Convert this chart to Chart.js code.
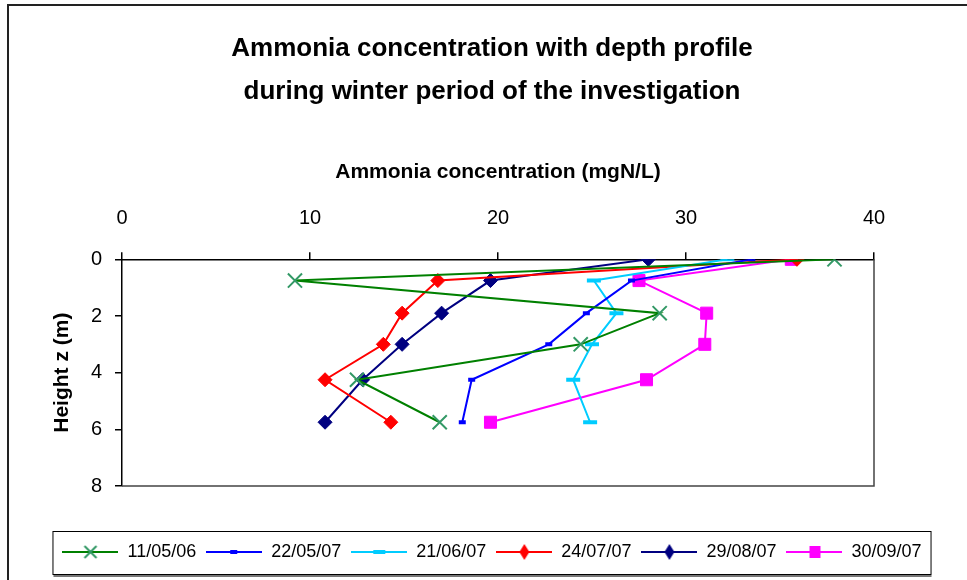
<!DOCTYPE html>
<html>
<head>
<meta charset="utf-8">
<script src="https://cdn.jsdelivr.net/npm/chart.js@4.4.1/dist/chart.umd.min.js"></script>
<style>
  html, body { margin: 0; padding: 0; background: #fff; }
</style>
</head>
<body>
<canvas id="ammoniaDepthChart" width="967" height="580"></canvas>
<script>
// 측정 깊이 (m)
const depths = [0, 0.75, 1.9, 3.0, 4.25, 5.75];

// 날짜별 암모니아 농도 (mgN/L)
const seriesLabels = ['11/05/06', '22/05/07', '21/06/07', '24/07/07', '29/08/07', '30/09/07'];
const conc110506 = [37.9, 9.2, 28.6, 24.4, 12.5, 16.9];
const conc220507 = [33.5, 27.1, 24.7, 22.7, 18.6, 18.1];
const conc210607 = [32.2, 25.1, 26.3, 25.0, 24.0, 24.9];
const conc240707 = [35.9, 16.8, 14.9, 13.9, 10.8, 14.3];
const conc290807 = [28.0, 19.6, 17.0, 14.9, 12.8, 10.8];
const conc300907 = [35.6, 27.5, 31.1, 31.0, 27.9, 19.6];

const xTicks = [0, 10, 20, 30, 40];
const yTicks = [0, 2, 4, 6, 8];

const FONT = "'Liberation Sans', Arial, sans-serif";

// 범례용 선 + 마커 이미지
function legendIcon(lineColor, markColor, mark) {
  const c = document.createElement('canvas');
  c.width = 56; c.height = 18;
  const g = c.getContext('2d');
  g.strokeStyle = lineColor; g.lineWidth = 2;
  g.beginPath(); g.moveTo(0, 9); g.lineTo(56, 9); g.stroke();
  g.fillStyle = markColor; g.strokeStyle = markColor;
  if (mark === 'x') {
    g.lineWidth = 2;
    g.beginPath();
    g.moveTo(22, 3); g.lineTo(34, 15);
    g.moveTo(34, 3); g.lineTo(22, 15);
    g.stroke();
  } else if (mark === 'dashS') {
    g.fillRect(24, 7, 7, 4);
  } else if (mark === 'dashL') {
    g.fillRect(22, 7, 12, 4);
  } else if (mark === 'diamond') {
    g.beginPath();
    g.moveTo(28, 1); g.lineTo(33, 9); g.lineTo(28, 17); g.lineTo(23, 9);
    g.closePath(); g.fill();
  } else if (mark === 'square') {
    g.fillRect(23, 3, 11, 12);
  }
  return c;
}

const styles = [
  { line: '#008000', mark: '#339966', pointStyle: 'crossRot', radius: 10, pbw: 2, icon: 'x' },
  { line: '#0000ff', mark: '#0000ff', pointStyle: 'line', radius: 3.5, pbw: 4, icon: 'dashS' },
  { line: '#00ccff', mark: '#00ccff', pointStyle: 'line', radius: 7, pbw: 4, icon: 'dashL' },
  { line: '#ff0000', mark: '#ff0000', pointStyle: 'rectRot', radius: 7, pbw: 1, icon: 'diamond' },
  { line: '#000080', mark: '#000080', pointStyle: 'rectRot', radius: 7, pbw: 1, icon: 'diamond' },
  { line: '#ff00ff', mark: '#ff00ff', pointStyle: 'rect', radius: 8.5, pbw: 1, icon: 'square' }
];
const seriesValues = [conc110506, conc220507, conc210607, conc240707, conc290807, conc300907];
const icons = styles.map(s => legendIcon(s.line, s.mark, s.icon));

const datasets = seriesLabels.map((label, i) => ({
  label: label,
  data: seriesValues[i].map((v, k) => ({ x: v, y: depths[k] })),
  showLine: true,
  borderColor: styles[i].line,
  borderWidth: 2,
  backgroundColor: styles[i].mark,
  pointStyle: styles[i].pointStyle,
  pointRadius: styles[i].radius,
  pointHoverRadius: styles[i].radius,
  pointBorderColor: styles[i].mark,
  pointBackgroundColor: styles[i].mark,
  pointBorderWidth: styles[i].pbw,
  tension: 0
}));

// 바깥 테두리, 플롯 영역 테두리, 범례 상자
const framePlugin = {
  id: 'frame',
  beforeDraw(chart) {
    const ctx = chart.ctx;
    ctx.save();
    ctx.strokeStyle = '#222';
    ctx.lineWidth = 2;
    ctx.beginPath();
    ctx.moveTo(8, 580); ctx.lineTo(8, 5); ctx.lineTo(967, 5);
    ctx.stroke();
    ctx.restore();
  },
  afterDraw(chart) {
    const ctx = chart.ctx;
    const a = chart.chartArea;
    ctx.save();
    ctx.strokeStyle = '#444';
    ctx.lineWidth = 1.5;
    ctx.beginPath();
    ctx.moveTo(a.right, a.top); ctx.lineTo(a.right, a.bottom); ctx.lineTo(a.left, a.bottom);
    ctx.stroke();
    const hb = chart.legend.legendHitBoxes;
    if (hb && hb.length) {
      const l = Math.min(...hb.map(h => h.left)) - 10;
      const r = Math.max(...hb.map(h => h.left + h.width)) + 9;
      const t = hb[0].top - 12;
      const b = hb[0].top + hb[0].height + 13;
      ctx.strokeStyle = '#000';
      ctx.lineWidth = 1;
      ctx.strokeRect(l + 0.5, t + 0.5, r - l, b - t);
      ctx.strokeStyle = '#777';
      ctx.lineWidth = 2;
      ctx.beginPath();
      ctx.moveTo(l + 1, b + 2); ctx.lineTo(r + 1, b + 2);
      ctx.stroke();
    }
    ctx.restore();
  }
};

new Chart(document.getElementById('ammoniaDepthChart'), {
  type: 'scatter',
  data: { datasets: datasets },
  options: {
    responsive: false,
    animation: false,
    layout: { padding: { left: 17, right: 0, top: 0, bottom: 9 } },
    scales: {
      x: {
        type: 'linear',
        position: 'top',
        min: xTicks[0],
        max: xTicks[xTicks.length - 1],
        afterBuildTicks(scale) { scale.ticks = xTicks.map(v => ({ value: v })); },
        afterFit(scale) { scale.height = 100; },
        border: { color: '#000', width: 1.5 },
        grid: { drawOnChartArea: false, drawTicks: true, tickLength: 7, color: '#000', lineWidth: 1.5 },
        ticks: { color: '#000', padding: 22, font: { family: FONT, size: 20 } },
        title: {
          display: true,
          text: 'Ammonia concentration (mgN/L)',
          color: '#000',
          font: { family: FONT, size: 21, weight: 'bold' },
          padding: { top: 0, bottom: 20 }
        }
      },
      y: {
        type: 'linear',
        position: 'left',
        reverse: true,
        min: yTicks[0],
        max: yTicks[yTicks.length - 1],
        afterBuildTicks(scale) { scale.ticks = yTicks.map(v => ({ value: v })); },
        afterFit(scale) { scale.width = 105; },
        border: { color: '#000', width: 1.5 },
        grid: { drawOnChartArea: false, drawTicks: true, tickLength: 7, color: '#000', lineWidth: 1.5 },
        ticks: { color: '#000', padding: 13, font: { family: FONT, size: 20 } },
        title: {
          display: true,
          text: 'Height z (m)',
          color: '#000',
          font: { family: FONT, size: 21, weight: 'bold' },
          padding: { top: 33, bottom: 0 }
        }
      },
      yRight: {
        type: 'linear',
        position: 'right',
        display: true,
        grid: { display: false, drawTicks: false },
        border: { display: false },
        ticks: { display: false },
        afterFit(scale) { scale.width = 93; }
      },
      xBottom: {
        type: 'linear',
        position: 'bottom',
        display: true,
        grid: { display: false, drawTicks: false },
        border: { display: false },
        ticks: { display: false },
        afterFit(scale) { scale.height = 47; }
      }
    },
    plugins: {
      title: {
        display: true,
        text: ['Ammonia concentration with depth profile', 'during winter period of the investigation'],
        color: '#000',
        font: { family: FONT, size: 26, weight: 'bold', lineHeight: 1.66 },
        padding: { top: 27, bottom: 46 }
      },
      legend: {
        position: 'bottom',
        labels: {
          usePointStyle: true,
          pointStyleWidth: 56,
          boxHeight: 18,
          padding: 10,
          color: '#000',
          font: { family: FONT, size: 18 },
          generateLabels(chart) {
            return chart.data.datasets.map((ds, i) => ({
              text: ds.label,
              pointStyle: icons[i],
              fillStyle: ds.borderColor,
              strokeStyle: ds.borderColor,
              lineWidth: 0,
              hidden: false,
              datasetIndex: i,
              fontColor: '#000'
            }));
          }
        }
      },
      tooltip: { enabled: false }
    }
  },
  plugins: [framePlugin]
});
</script>
</body>
</html>
